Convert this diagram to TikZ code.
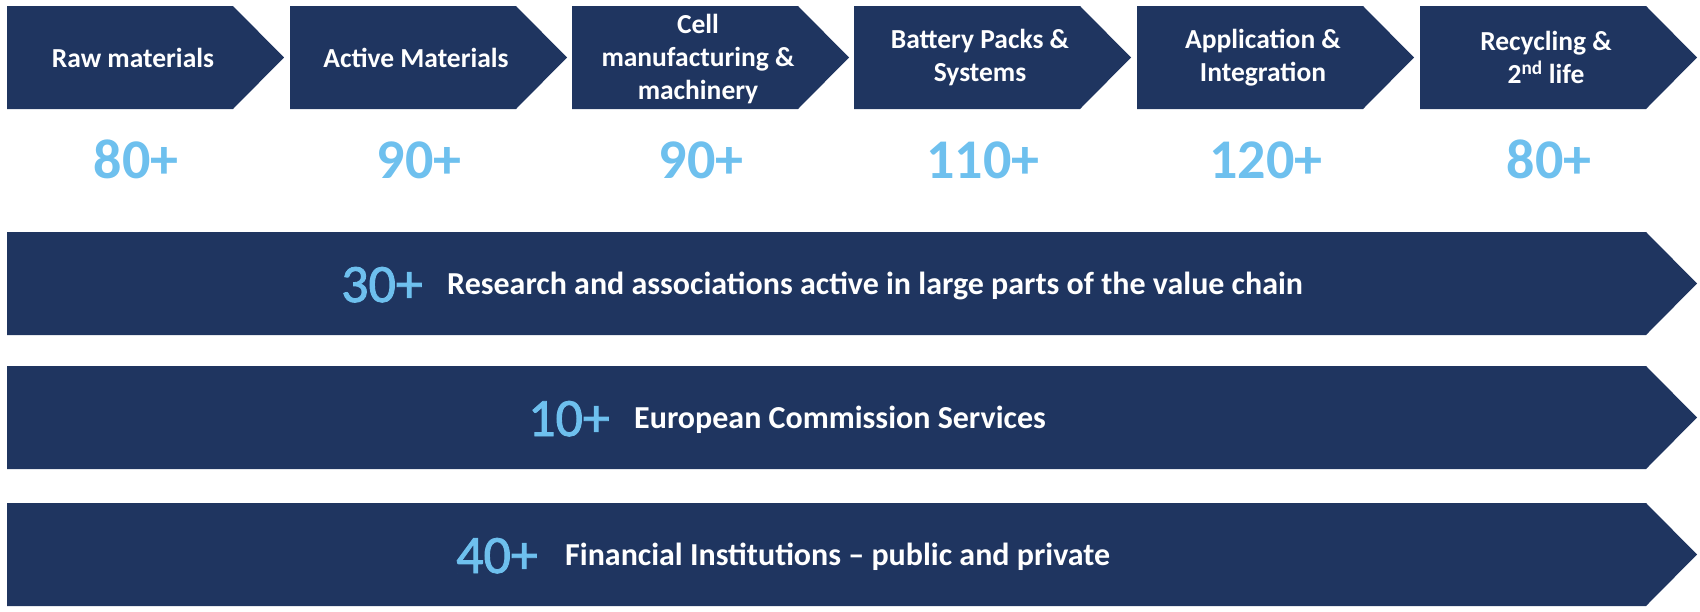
\documentclass[tikz,border=0pt]{standalone}
\usepackage{fontspec}
\setmainfont{Carlito}
\newfontfamily\countfont[FakeBold=1.6]{Carlito}
\usetikzlibrary{positioning}
\definecolor{chainnavy}{RGB}{31,53,96}
\definecolor{chainblue}{RGB}{110,192,238}
\tikzset{
	stage/.style={text=white, font=\bfseries\fontsize{27.5}{33}\selectfont, align=center, inner sep=0pt},
	count/.style={text=chainblue, font=\bfseries\fontsize{56}{60}\selectfont, inner sep=0pt, anchor=base},
	barcount/.style={text=chainblue, font=\countfont\fontsize{54}{60}\selectfont, inner sep=0pt, anchor=base east},
	bartext/.style={text=white, font=\bfseries\fontsize{32}{38}\selectfont, inner sep=0pt},
}
\begin{document}
\begin{tikzpicture}[x=1pt,y=-1pt]
	\useasboundingbox (0,0) rectangle (1700,611);
	% value chain steps
	\foreach \x in {7,290,572,854,1137,1420}
	{
		\fill[chainnavy] (\x,6) -- (\x+226,6) -- (\x+277,57.5) -- (\x+226,109) -- (\x,109) -- cycle;
	}
	% long bars
	\foreach \y in {232,366,503}
	{
		\fill[chainnavy] (7,\y) -- (1646,\y) -- (1697,\y+51.5) -- (1646,\y+103) -- (7,\y+103) -- cycle;
	}
	\node[stage] (raw) at (133,57.5) {Raw materials};
	\node[stage] (active) at (416,57.5) {Active Materials};
	\node[stage] (cell) at (698,59) {Cell\\manufacturing \&\\machinery};
	\node[stage] (packs) at (980,57.5) {Battery Packs \&\\Systems};
	\node[stage] (appl) at (1263,57.5) {Application \&\\Integration};
	\node[stage] (recyc) at (1546,57.5) {Recycling \&\\2\textsuperscript{nd} life};
	\node[count] (n-raw) at (136,178) {80+};
	\node[count] (n-active) at (419,178) {90+};
	\node[count] (n-cell) at (701,178) {90+};
	\node[count] (n-packs) at (983,178) {110+};
	\node[count] (n-appl) at (1266,178) {120+};
	\node[count] (n-recyc) at (1549,178) {80+};
	\node[barcount] (n-research) at (423,302) {30+};
	\node[bartext, right=24pt of n-research.base east, anchor=base west, yshift=8pt] (research) {Research and associations active in large parts of the value chain};
	\node[barcount] (n-commission) at (610,436) {10+};
	\node[bartext, right=24pt of n-commission.base east, anchor=base west, yshift=8pt] (commission) {European Commission Services};
	\node[barcount] (n-finance) at (538,573) {40+};
	\node[bartext, right=27pt of n-finance.base east, anchor=base west, yshift=8pt] (finance) {Financial Institutions -- public and private};
\end{tikzpicture}
\end{document}
